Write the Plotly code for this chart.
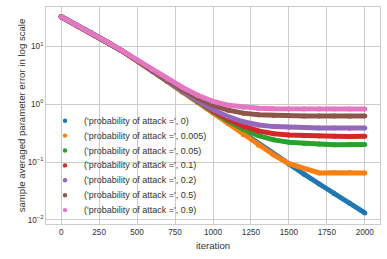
import plotly.graph_objects as go

iterations = [0, 100, 200, 300, 400, 500, 600, 700, 800, 900, 1000,
              1100, 1200, 1300, 1400, 1500, 1600, 1700, 1800, 1900, 2000]

err_p0 = [32.4, 23.4, 17.0, 12.0, 8.32, 5.62, 3.72, 2.45, 1.62, 1.07, 0.708,
          0.468, 0.309, 0.204, 0.135, 0.0912, 0.0617, 0.0417, 0.0282, 0.0195, 0.0132]
err_p0005 = [32.3, 23.3, 16.9, 11.9, 8.30, 5.62, 3.72, 2.45, 1.62, 1.07, 0.705,
             0.457, 0.295, 0.195, 0.132, 0.0933, 0.0759, 0.0646, 0.0652, 0.0661, 0.0646]
err_p005 = [32.3, 23.3, 16.9, 11.9, 8.31, 5.63, 3.72, 2.47, 1.63, 1.09, 0.736,
            0.509, 0.368, 0.286, 0.241, 0.220, 0.209, 0.204, 0.199, 0.201, 0.200]
err_p01 = [32.3, 23.3, 16.9, 11.9, 8.31, 5.63, 3.73, 2.47, 1.645, 1.107, 0.760,
           0.544, 0.415, 0.344, 0.308, 0.292, 0.284, 0.280, 0.278, 0.276, 0.277]
err_p02 = [32.3, 23.3, 16.9, 11.9, 8.32, 5.64, 3.735, 2.486, 1.667, 1.139, 0.806,
           0.606, 0.494, 0.436, 0.408, 0.396, 0.390, 0.387, 0.386, 0.382, 0.385]
err_p05 = [31.8, 23.0, 16.7, 11.8, 8.30, 5.65, 3.78, 2.56, 1.77, 1.27, 0.960,
           0.785, 0.697, 0.655, 0.636, 0.627, 0.623, 0.621, 0.620, 0.619, 0.620]
err_p09 = [32.2, 23.3, 17.0, 12.0, 8.45, 5.80, 3.95, 2.72, 1.93, 1.42, 1.110,
           0.955, 0.880, 0.847, 0.832, 0.825, 0.822, 0.820, 0.821, 0.819, 0.820]

series_values = [err_p0, err_p0005, err_p005, err_p01, err_p02, err_p05, err_p09]
series_labels = ["('probability of attack =', 0)",
                 "('probability of attack =', 0.005)",
                 "('probability of attack =', 0.05)",
                 "('probability of attack =', 0.1)",
                 "('probability of attack =', 0.2)",
                 "('probability of attack =', 0.5)",
                 "('probability of attack =', 0.9)"]
colors = ["#1f77b4", "#ff7f0e", "#2ca02c", "#d62728", "#9467bd", "#8c564b", "#e377c2"]

x_ticks = [0, 250, 500, 750, 1000, 1250, 1500, 1750, 2000]
y_tickvals = [0.01, 0.1, 1, 10]
y_ticktext = ["10<sup>\u22122</sup>", "10<sup>\u22121</sup>", "10<sup>0</sup>", "10<sup>1</sup>"]

FONT = "Liberation Sans, Arial, sans-serif"
TXT = "#333333"
FS = 9
TICK_FS = 8.2
TITLE_FS = 9.6

fig = go.Figure()
for vals, lab, col in zip(series_values, series_labels, colors):
    fig.add_trace(go.Scatter(
        x=iterations, y=vals, name=lab, mode="lines+markers",
        line=dict(color=col, width=5),
        marker=dict(color=col, size=5),
        showlegend=False,
    ))

# custom legend (matplotlib-like compact spacing)
W, H = 387, 259
L, R, T, B = 46, 7, 7, 35
pw, ph = W - L - R, H - T - B
dot_x = (65 - L) / pw
text_x = (82 - L) / pw
row0 = 120.7
step = 14.9
for i, (lab, col) in enumerate(zip(series_labels, colors)):
    ypix = row0 + step * i
    yp = (H - B - ypix) / ph
    fig.add_shape(type="circle", xref="paper", yref="paper",
                  xsizemode="pixel", ysizemode="pixel",
                  xanchor=dot_x, yanchor=yp, x0=-2.2, x1=2.2, y0=-2.2, y1=2.2,
                  fillcolor=col, line=dict(width=0))
    fig.add_annotation(x=text_x, y=yp, xref="paper", yref="paper",
                       text=lab, showarrow=False, xanchor="left", yanchor="middle",
                       font=dict(family=FONT, size=FS, color=TXT))

fig.update_layout(
    width=W, height=H,
    margin=dict(l=L, r=R, t=T, b=B),
    paper_bgcolor="white", plot_bgcolor="white",
    font=dict(family=FONT, size=FS, color=TXT),
    showlegend=False,
    xaxis=dict(range=[-100, 2100], tickvals=x_ticks, showgrid=True, automargin=False,
               gridcolor="#cccccc", gridwidth=0.8, zeroline=False,
               showline=True, mirror=True, linecolor="#cccccc", linewidth=1,
               ticks="", tickfont=dict(size=TICK_FS, color=TXT),
               title=dict(text="iteration", font=dict(size=TITLE_FS, color=TXT), standoff=6)),
    yaxis=dict(type="log", range=[-2.07, 1.675], tickvals=y_tickvals, ticktext=y_ticktext,
               showgrid=True, gridcolor="#cccccc", gridwidth=0.8, zeroline=False,
               automargin=False,
               showline=True, mirror=True, linecolor="#cccccc", linewidth=1,
               ticks="", tickfont=dict(size=TICK_FS, color=TXT),
               title=dict(text="sample averaged parameter error in log scale",
                          font=dict(size=TITLE_FS, color=TXT), standoff=0)),
)

fig.write_html("out.html", config={"displayModeBar": False},
               post_script="document.body.style.margin='0';document.body.style.overflow='hidden';")
